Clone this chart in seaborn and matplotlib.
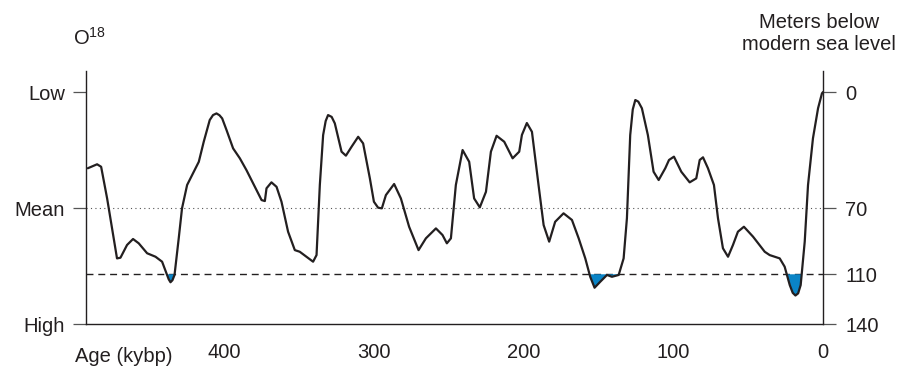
import matplotlib
matplotlib.use("Agg")
import matplotlib.pyplot as plt
import pandas as pd
import seaborn as sns

# values: age (kyr before present) and sea level (m below modern)
age_kyr = [490.8, 484.6, 481.9, 477.9, 473.9, 471.3, 469.0, 464.6, 460.6, 456.8,
           451.2, 445.6, 441.2, 438.3, 436.8, 435.6, 434.3, 432.9, 430.1, 427.9,
           424.5, 420.0, 416.7, 413.4, 409.4, 407.2, 404.9, 402.9, 401.1, 398.2,
           393.8, 389.3, 384.9, 379.3, 374.8, 372.6, 371.5, 368.2, 364.8, 361.5,
           357.1, 352.6, 349.3, 344.8, 340.4, 338.1, 335.9, 333.7, 332.0, 330.4,
           328.0, 325.9, 321.4, 318.5, 314.7, 310.3, 307.0, 302.5, 299.8, 297.0,
           294.5, 291.8, 286.3, 281.8, 276.3, 270.0, 265.1, 258.4, 254.0, 251.1,
           248.4, 245.1, 240.6, 236.2, 232.9, 229.1, 225.0, 221.7, 217.9, 212.8,
           207.2, 202.8, 201.0, 197.7, 194.3, 189.9, 186.5, 182.8, 178.8, 173.2,
           167.6, 163.1, 158.7, 155.4, 152.5, 148.7, 144.2, 140.9, 136.4, 133.1,
           130.9, 128.7, 127.0, 125.3, 123.3, 120.9, 116.9, 113.1, 109.7, 105.3,
           102.8, 99.5, 94.6, 89.0, 84.6, 82.3, 80.1, 76.8, 72.8, 70.1,
           66.8, 63.4, 60.1, 56.8, 52.8, 46.7, 38.9, 35.6, 28.9, 25.6,
           22.2, 20.2, 18.4, 16.6, 14.9, 12.2, 10.0, 6.7, 3.3, 0.7, 0.0]
depth_m = [46.0, 43.6, 45.1, 64.2, 86.3, 100.4, 100.0, 92.3, 88.7, 91.3,
           97.3, 99.4, 102.4, 109.4, 113.0, 114.8, 113.6, 110.4, 88.3, 70.2,
           56.1, 48.1, 42.1, 30.0, 16.9, 13.9, 12.9, 14.0, 15.9, 22.9,
           34.0, 40.0, 47.1, 57.2, 65.2, 65.8, 58.1, 54.5, 57.2, 66.2,
           84.3, 95.4, 96.4, 99.4, 102.4, 98.4, 56.1, 26.0, 17.5, 13.9,
           15.0, 18.9, 36.0, 38.4, 33.0, 27.0, 31.0, 52.1, 66.2, 69.8,
           70.2, 62.2, 55.5, 64.2, 81.3, 95.4, 88.3, 82.3, 86.3, 91.3,
           88.3, 56.1, 35.0, 42.1, 64.2, 69.6, 60.2, 36.0, 26.4, 30.0,
           40.0, 36.0, 25.9, 18.7, 24.0, 56.1, 80.3, 90.3, 78.3, 73.2,
           77.2, 88.3, 100.4, 111.5, 118.1, 114.5, 110.4, 111.5, 110.4, 100.4,
           76.2, 26.0, 10.5, 4.8, 5.8, 9.8, 26.0, 48.1, 53.1, 46.0,
           41.0, 39.0, 48.1, 54.5, 52.1, 41.0, 39.4, 46.0, 56.1, 76.2,
           94.3, 99.4, 92.3, 84.3, 81.3, 87.3, 96.4, 98.4, 100.4, 105.4,
           116.5, 121.2, 122.8, 121.5, 116.5, 90.3, 56.1, 27.9, 9.8, 0.8, 0.0]

mean_level = 70
glacial_level = 110
age_ticks = [400, 300, 200, 100, 0]
left_ticks = [0, 70, 140]
left_labels = ["Low", "Mean", "High"]
right_ticks = [0, 70, 110, 140]

ink = "#231f20"
blue = "#0a84c6"

sns.set_style("white")
plt.rcParams["font.family"] = ["Liberation Sans", "DejaVu Sans"]
plt.rcParams["mathtext.fontset"] = "custom"
plt.rcParams["mathtext.rm"] = "Liberation Sans"

df = pd.DataFrame({"age": age_kyr, "depth": depth_m})

fig = plt.figure(figsize=(9.02, 3.70), dpi=100)
ax = fig.add_axes([86 / 902, 1 - 324 / 370, (823 - 86) / 902, (324 - 71) / 370])

# blue where sea level dropped below the 110 m line
ax.fill_between(df["age"], df["depth"], glacial_level,
                where=df["depth"] >= glacial_level, interpolate=True,
                color=blue, lw=0, zorder=2)
ax.axhline(mean_level, color="#555555", ls=(0, (1, 3)), lw=0.8, zorder=1)
ax.axhline(glacial_level, color=ink, ls=(0, (5, 3.5)), lw=1.0, zorder=1)
line = sns.lineplot(data=df, x="age", y="depth", ax=ax, color=ink, lw=1.6,
                    sort=False, estimator=None, zorder=3)
for ln in ax.get_lines():
    ln.set_solid_joinstyle("round")

ax.set_xlim(492, 0)
ax.set_ylim(140, -12.7)
ax.set_xlabel("")
ax.set_ylabel("")

ax.set_xticks(age_ticks)
ax.set_xticklabels([str(t) for t in age_ticks])
ax.set_yticks(left_ticks)
ax.set_yticklabels(left_labels)

ax2 = ax.twinx()
ax2.set_ylim(140, -12.7)
ax2.set_yticks(right_ticks)
ax2.set_yticklabels([str(t) for t in right_ticks])

for a in (ax, ax2):
    a.spines["top"].set_visible(False)
    for s in a.spines.values():
        s.set_color(ink)
        s.set_linewidth(1.0)
ax.spines["right"].set_visible(False)
ax2.spines["left"].set_visible(False)
ax2.spines["bottom"].set_visible(False)

ax.tick_params(axis="both", direction="out", length=9.5, width=0.9,
               color="#555555", labelsize=14.5, labelcolor=ink)
ax.tick_params(axis="y", pad=5.5)
ax.tick_params(axis="x", pad=4)
ax2.tick_params(axis="y", direction="out", length=9.5, width=0.9,
                color="#555555", labelsize=14.5, labelcolor=ink, pad=6.5)

fig.text(75 / 902, 1 - 347 / 370, "Age (kybp)", fontsize=14.5, color=ink,
         ha="left", va="top")
fig.text(73 / 902, 1 - 45 / 370, r"O$^{18}$", fontsize=14.5, color=ink,
         ha="left", va="baseline")
fig.text(819 / 902, 1 - 27.5 / 370, "Meters below", fontsize=14.5, color=ink,
         ha="center", va="baseline")
fig.text(819 / 902, 1 - 50 / 370, "modern sea level", fontsize=14.5, color=ink,
         ha="center", va="baseline")

fig.savefig("out.png", dpi=100)
